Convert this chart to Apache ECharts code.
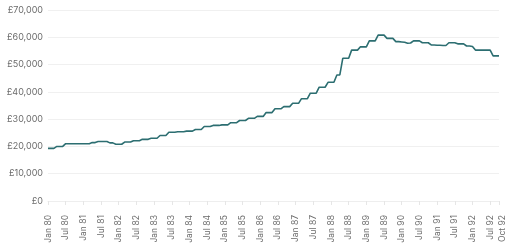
<!DOCTYPE html>
<html>
<head>
<meta charset="utf-8">
<script src="https://cdn.jsdelivr.net/npm/echarts@6/dist/echarts.min.js"></script>
<style>html,body{margin:0;padding:0;background:#fff;}#c{width:512px;height:248px;}</style>
</head>
<body>
<div id="c"></div>
<script>
// Tick label pieces
var monthNames = ['Jan','Feb','Mar','Apr','May','Jun','Jul','Aug','Sep','Oct','Nov','Dec'];
var years = ['80','81','82','83','84','85','86','87','88','89','90','91','92'];
var lastMonthIndex = 9; // Oct 92

// Categories: Jan 80 .. Oct 92 (monthly)
var categories = [];
for (var y = 0; y < years.length; y++) {
  for (var m = 0; m < 12; m++) {
    if (y === years.length - 1 && m > lastMonthIndex) break;
    categories.push(monthNames[m] + ' ' + years[y]);
  }
}

// Average price (GBP), monthly
var prices = [
  // 1980
  19300, 19300, 19300, 20000, 20000, 20000, 21000, 21000, 21000, 21000, 21000, 21000,
  // 1981
  21000, 21000, 21000, 21400, 21400, 21800, 21800, 21800, 21800, 21300, 21300, 20800,
  // 1982
  20800, 20800, 21600, 21600, 21600, 22100, 22100, 22100, 22600, 22600, 22600, 23000,
  // 1983
  23000, 23000, 24000, 24000, 24000, 25200, 25200, 25200, 25400, 25400, 25400, 25600,
  // 1984
  25600, 25600, 26200, 26200, 26200, 27300, 27300, 27300, 27700, 27700, 27700, 27900,
  // 1985
  27900, 27900, 28700, 28700, 28700, 29500, 29500, 29500, 30300, 30300, 30300, 31000,
  // 1986
  31000, 31000, 32400, 32400, 32400, 33800, 33800, 33800, 34600, 34600, 34600, 35800,
  // 1987
  35800, 35800, 37500, 37500, 37500, 39500, 39500, 39500, 41700, 41700, 41700, 43500,
  // 1988
  43500, 43500, 46200, 46200, 52300, 52300, 52300, 55300, 55300, 55300, 56500, 56500,
  // 1989
  56500, 58700, 58700, 58700, 60800, 60800, 60800, 59600, 59600, 59600, 58400, 58400,
  // 1990
  58300, 58200, 57800, 57900, 58700, 58700, 58700, 58000, 58000, 58000, 57200, 57200,
  // 1991
  57100, 57100, 57000, 57000, 58000, 58000, 58000, 57600, 57600, 57600, 56800, 56800,
  // 1992
  56600, 55300, 55300, 55300, 55300, 55300, 55300, 53200, 53200, 53200
];

// Value-axis ticks
var yMin = 0, yMax = 70000, yStep = 10000;

function fmtMoney(v) {
  return '£' + String(v).replace(/\B(?=(\d{3})+(?!\d))/g, ',');
}

function showTick(i) { return i % 6 === 0 || i === categories.length - 1; }

var chart = echarts.init(document.getElementById('c'), null, {renderer: 'canvas'});
chart.setOption({
  animation: false,
  grid: {left: 48, right: 13, top: 10, bottom: 47, containLabel: false},
  xAxis: {
    type: 'category',
    data: categories,
    boundaryGap: false,
    axisLine: {show: true, lineStyle: {color: '#eeeeee', width: 1}},
    axisTick: {
      show: true, length: 4, lineStyle: {color: '#e6e6e6'},
      interval: showTick
    },
    axisLabel: {
      rotate: 90,
      margin: 14,
      color: '#6b6b6b',
      fontSize: 8.5,
      fontFamily: 'Inter, "Noto Sans", sans-serif',
      interval: showTick,
      formatter: function (v, i) {
        return i === categories.length - 1 ? '{last|' + v + '}' : v;
      },
      rich: {
        last: {padding: [6, 0, 0, 0], color: '#6b6b6b', fontSize: 8.5, fontFamily: 'Inter, "Noto Sans", sans-serif'}
      }
    },
    splitLine: {show: false}
  },
  yAxis: {
    type: 'value',
    min: yMin, max: yMax, interval: yStep,
    axisLine: {show: false},
    axisTick: {show: false},
    axisLabel: {
      color: '#6b6b6b',
      fontSize: 9,
      margin: 5,
      fontFamily: 'Inter, "Noto Sans", sans-serif',
      formatter: fmtMoney
    },
    splitLine: {lineStyle: {color: '#f0f0f0', width: 1}}
  },
  series: [{
    type: 'line',
    data: prices,
    showSymbol: false,
    symbol: 'none',
    lineStyle: {color: '#2c6e71', width: 1.6},
    itemStyle: {color: '#2c6e71'}
  }]
});
</script>
</body>
</html>
